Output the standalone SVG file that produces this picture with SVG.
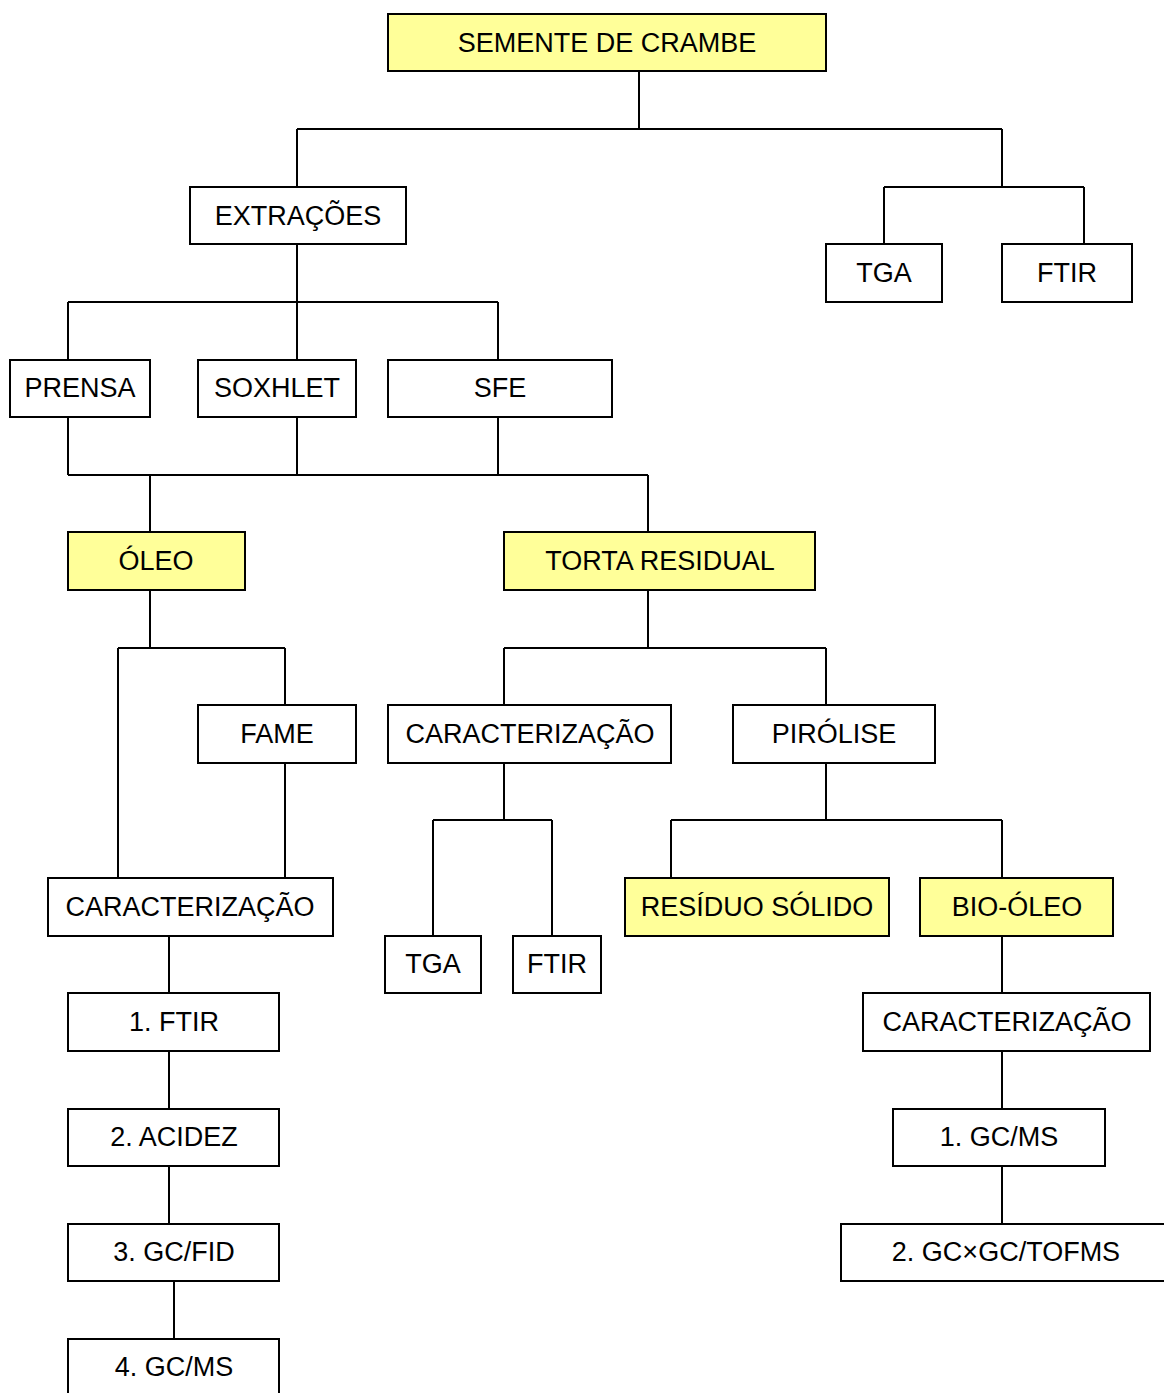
<svg xmlns="http://www.w3.org/2000/svg" width="1164" height="1393" viewBox="0 0 1164 1393">
<style>
.b{fill:#fff;stroke:#000;stroke-width:2}
.y{fill:#ffff99;stroke:#000;stroke-width:2}
.t{font-family:"Liberation Sans",Arial,sans-serif;font-size:27px;fill:#000;text-anchor:middle}
.c{fill:none;stroke:#000;stroke-width:2}
</style>
<rect width="1164" height="1393" fill="#fff"/>
<g id="connectors" class="c">
<path d="M639 71V129M297 129H1002M297 129V187M1002 129V187M884 187H1084M884 187V244M1084 187V244"/>
<path d="M297 244V302M68 302H498M68 302V360M297 302V360M498 302V360"/>
<path d="M68 417V475M297 417V475M498 417V475M68 475H648M150 475V532M648 475V532"/>
<path d="M150 590V648M118 648H285M118 648V878M285 648V705M285 763V878"/>
<path d="M169 936V993M169 1051V1109M169 1166V1224M174 1281V1339"/>
<path d="M648 590V648M504 648H826M504 648V705M826 648V705"/>
<path d="M504 763V820M433 820H552M433 820V936M552 820V936"/>
<path d="M826 763V820M671 820H1002M671 820V878M1002 820V878"/>
<path d="M1002 936V993M1002 1051V1109M1002 1166V1224"/>
</g>
<g id="semente"><rect class="y" x="388" y="14" width="438" height="57"/><text class="t" x="607" y="52">SEMENTE DE CRAMBE</text></g>
<g id="extracoes"><rect class="b" x="190" y="187" width="216" height="57"/><text class="t" x="298" y="225">EXTRAÇÕES</text></g>
<g id="tga1"><rect class="b" x="826" y="244" width="116" height="58"/><text class="t" x="884" y="282">TGA</text></g>
<g id="ftir1"><rect class="b" x="1002" y="244" width="130" height="58"/><text class="t" x="1067" y="282">FTIR</text></g>
<g id="prensa"><rect class="b" x="10" y="360" width="140" height="57"/><text class="t" x="80" y="397">PRENSA</text></g>
<g id="soxhlet"><rect class="b" x="198" y="360" width="158" height="57"/><text class="t" x="277" y="397">SOXHLET</text></g>
<g id="sfe"><rect class="b" x="388" y="360" width="224" height="57"/><text class="t" x="500" y="397">SFE</text></g>
<g id="oleo"><rect class="y" x="68" y="532" width="177" height="58"/><text class="t" x="156" y="570">ÓLEO</text></g>
<g id="torta"><rect class="y" x="504" y="532" width="311" height="58"/><text class="t" x="660" y="570">TORTA RESIDUAL</text></g>
<g id="fame"><rect class="b" x="198" y="705" width="158" height="58"/><text class="t" x="277" y="743">FAME</text></g>
<g id="caract2"><rect class="b" x="388" y="705" width="283" height="58"/><text class="t" x="530" y="743">CARACTERIZAÇÃO</text></g>
<g id="pirolise"><rect class="b" x="733" y="705" width="202" height="58"/><text class="t" x="834" y="743">PIRÓLISE</text></g>
<g id="caract1"><rect class="b" x="48" y="878" width="285" height="58"/><text class="t" x="190" y="916">CARACTERIZAÇÃO</text></g>
<g id="tga2"><rect class="b" x="385" y="936" width="96" height="57"/><text class="t" x="433" y="973">TGA</text></g>
<g id="ftir2"><rect class="b" x="513" y="936" width="88" height="57"/><text class="t" x="557" y="973">FTIR</text></g>
<g id="residuo"><rect class="y" x="625" y="878" width="264" height="58"/><text class="t" x="757" y="916">RESÍDUO SÓLIDO</text></g>
<g id="biooleo"><rect class="y" x="920" y="878" width="193" height="58"/><text class="t" x="1017" y="916">BIO-ÓLEO</text></g>
<g id="ftir3"><rect class="b" x="68" y="993" width="211" height="58"/><text class="t" x="174" y="1031">1. FTIR</text></g>
<g id="acidez"><rect class="b" x="68" y="1109" width="211" height="57"/><text class="t" x="174" y="1146">2. ACIDEZ</text></g>
<g id="gcfid"><rect class="b" x="68" y="1224" width="211" height="57"/><text class="t" x="174" y="1261">3. GC/FID</text></g>
<g id="gcms1"><rect class="b" x="68" y="1339" width="211" height="70"/><text class="t" x="174" y="1376">4. GC/MS</text></g>
<g id="caract3"><rect class="b" x="863" y="993" width="287" height="58"/><text class="t" x="1007" y="1031">CARACTERIZAÇÃO</text></g>
<g id="gcms2"><rect class="b" x="893" y="1109" width="212" height="57"/><text class="t" x="999" y="1146">1. GC/MS</text></g>
<g id="gcxgc"><rect class="b" x="841" y="1224" width="340" height="57"/><text class="t" x="1006" y="1261">2. GC×GC/TOFMS</text></g>
</svg>
